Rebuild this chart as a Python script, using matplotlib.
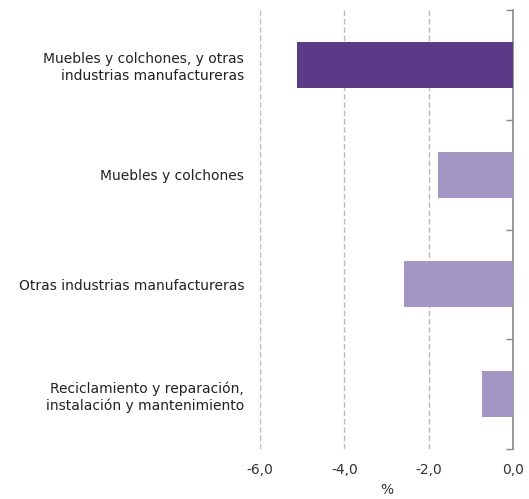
import matplotlib.pyplot as plt
import numpy as np

categories = [
    "Muebles y colchones, y otras\nindustrias manufactureras",
    "Muebles y colchones",
    "Otras industrias manufactureras",
    "Reciclamiento y reparación,\ninstalación y mantenimiento",
]
values = [-5.13, -1.78, -2.58, -0.73]
colors = ["#5B3A87", "#A496C4", "#A496C4", "#A496C4"]
xticks = [-6.0, -4.0, -2.0, 0.0]
xticklabels = ["-6,0", "-4,0", "-2,0", "0,0"]


def main():
    plt.rcParams["font.family"] = "DejaVu Sans"
    fig = plt.figure(figsize=(5.29, 4.99), dpi=100)
    ax = fig.add_axes([0.4915, 0.100, 0.4785, 0.880])

    y = np.arange(len(categories))
    ax.barh(y, values, height=0.42, color=colors, zorder=3)
    ax.set_ylim(len(categories) - 0.5, -0.5)
    ax.set_xlim(-6, 0)

    # category labels on the left, no tick marks
    ax.set_yticks(y)
    ax.set_yticklabels(categories, fontsize=10, color="#222222", ha="right")
    # boundary ticks on the right spine
    ax.set_yticks(np.arange(len(categories) + 1) - 0.5, minor=True)
    ax.tick_params(axis="y", which="major", left=False, right=False, pad=8)
    ax.tick_params(axis="y", which="minor", left=False, right=True,
                   direction="in", length=5, color="#888888", width=1)

    ax.set_xticks(xticks)
    ax.set_xticklabels(xticklabels, fontsize=10, color="#333333")
    ax.tick_params(axis="x", length=0, pad=10)
    ax.set_xlabel("%", fontsize=10, color="#333333", labelpad=4)

    for s in ["top", "bottom", "left"]:
        ax.spines[s].set_visible(False)
    ax.spines["right"].set_color("#888888")
    ax.spines["right"].set_linewidth(1.2)

    for xv in xticks[:-1]:
        ax.axvline(xv, color="#BBBBBB", linestyle=(0, (4, 2)), linewidth=1, zorder=1)

    fig.savefig("out.png", dpi=100)


if __name__ == "__main__":
    main()
